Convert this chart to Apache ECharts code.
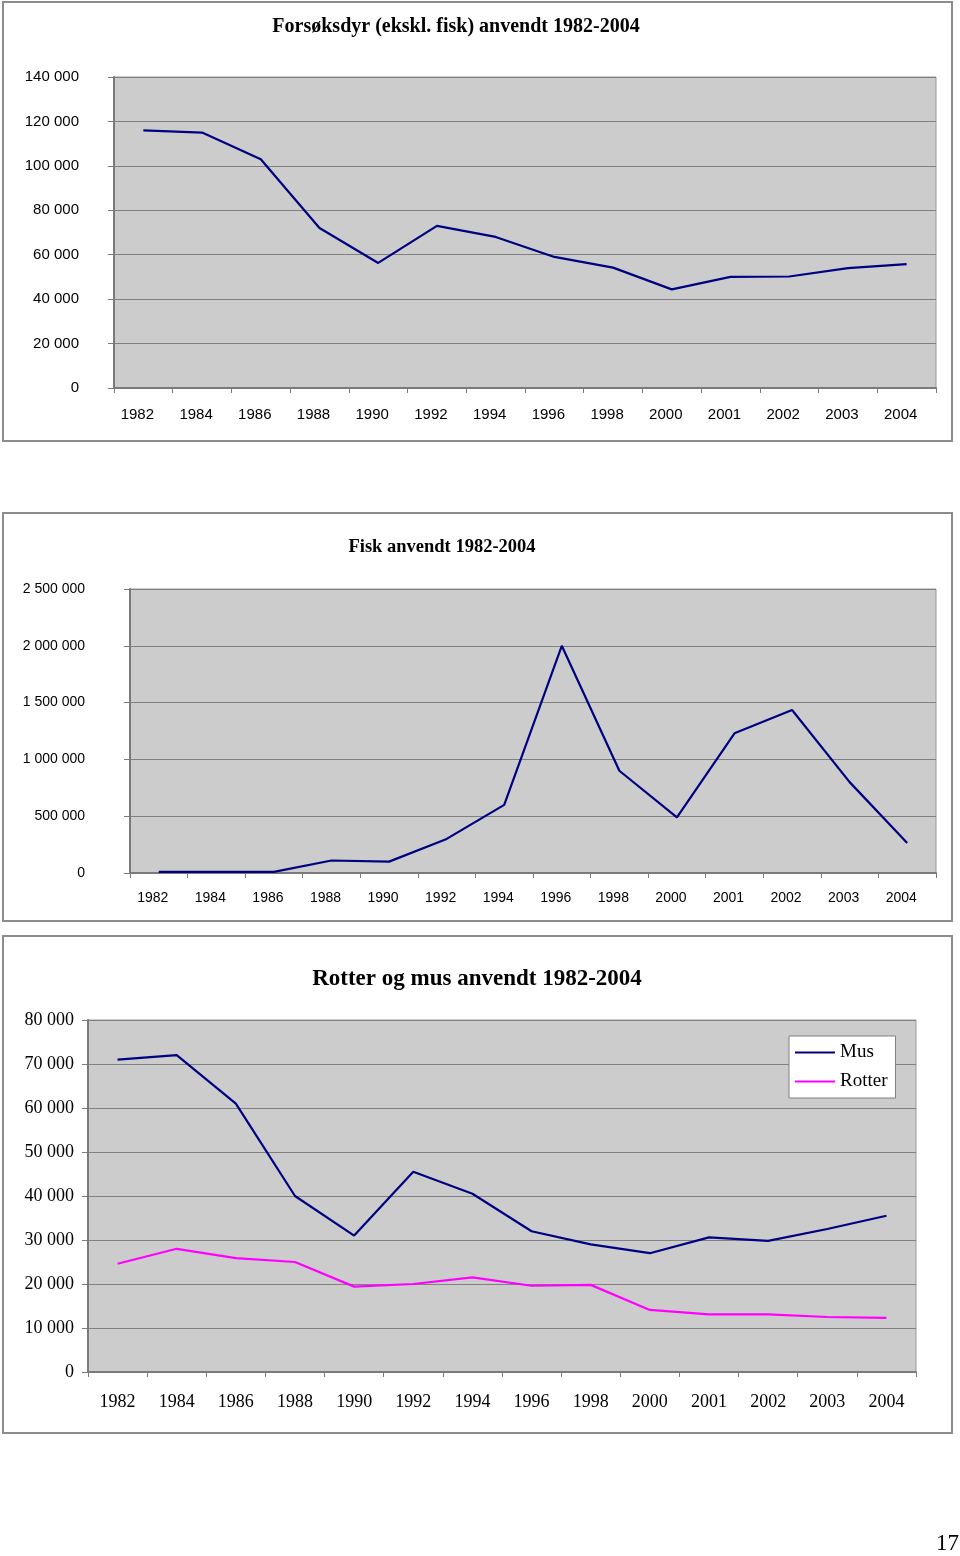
<!DOCTYPE html>
<html><head><meta charset="utf-8">
<script src="https://cdn.jsdelivr.net/npm/echarts@6/dist/echarts.min.js"></script>
<style>html,body{margin:0;padding:0;background:#fff}#c{width:960px;height:1556px}</style>
</head><body><div id="c"></div>
<script>
const years = ['1982','1984','1986','1988','1990','1992','1994','1996','1998','2000','2001','2002','2003','2004'];
const forsoksdyr = [116000,115000,103000,72000,56300,73000,68000,59000,54200,44400,50000,50200,54000,55800];
const fisk = [10000,10000,10000,110000,100000,300000,600000,2000000,900000,490000,1230000,1435000,800000,265000];
const mus = [71000,72000,61000,40000,31000,45500,40500,32000,29000,27000,30600,29800,32500,35500];
const rotter = [24600,28000,25900,25000,19400,20000,21500,19600,19800,14100,13100,13100,12500,12300];
const title1 = 'Forsøksdyr (ekskl. fisk) anvendt 1982-2004';
const title2 = 'Fisk anvendt 1982-2004';
const title3 = 'Rotter og mus anvendt 1982-2004';

const sans = '"Liberation Sans", Arial, sans-serif';
const serif = '"Liberation Serif", "Times New Roman", serif';
const fmt = v => String(v).replace(/\B(?=(\d{3})+(?!\d))/g, ' ');
const axisGrey = '#7a7a7a';

function xAxis(gi, font, size, margin, pad) {
  return {
    type: 'category', gridIndex: gi, data: years, boundaryGap: true,
    axisLine: {lineStyle: {color: axisGrey, width: 2}},
    axisTick: {show: true, length: 5, lineStyle: {color: axisGrey}},
    axisLabel: {interval: 0, fontFamily: font, fontSize: size, color: '#000', margin: margin, padding: pad}
  };
}
function yAxis(gi, max, interval, font, size, margin) {
  return {
    type: 'value', gridIndex: gi, min: 0, max: max, interval: interval,
    axisLine: {show: true, lineStyle: {color: axisGrey, width: 2}},
    axisTick: {show: true, inside: false, length: 6, lineStyle: {color: axisGrey}},
    splitLine: {show: true, lineStyle: {color: '#808080', width: 1}},
    axisLabel: {fontFamily: font, fontSize: size, color: '#000', margin: margin, formatter: fmt}
  };
}
const gridStyle = {show: true, backgroundColor: '#cccccc', borderColor: '#9a9a9a', borderWidth: 1};

const chart = echarts.init(document.getElementById('c'), null, {renderer: 'canvas'});
chart.setOption({
  animation: false,
  title: [
    {text: title1, left: 451, top: 12, textAlign: 'center', textStyle: {fontFamily: serif, fontWeight: 'bold', fontSize: 20, color: '#000'}},
    {text: title2, left: 437, top: 533, textAlign: 'center', textStyle: {fontFamily: serif, fontWeight: 'bold', fontSize: 18.5, color: '#000'}},
    {text: title3, left: 472, top: 963, textAlign: 'center', textStyle: {fontFamily: serif, fontWeight: 'bold', fontSize: 23, color: '#000'}}
  ],
  grid: [
    Object.assign({left: 114, top: 77, width: 822, height: 311}, gridStyle),
    Object.assign({left: 130, top: 589, width: 806, height: 284}, gridStyle),
    Object.assign({left: 88, top: 1020, width: 828, height: 352}, gridStyle)
  ],
  xAxis: [
    xAxis(0, sans, 15, 19, [0, 12, 0, 0]),
    xAxis(1, sans, 14, 18, [0, 12, 0, 0]),
    xAxis(2, serif, 18, 21, 0)
  ],
  yAxis: [
    yAxis(0, 140000, 20000, sans, 15, 35),
    yAxis(1, 2500000, 500000, sans, 14, 45),
    yAxis(2, 80000, 10000, serif, 18, 14)
  ],
  legend: {
    data: ['Mus', 'Rotter'], orient: 'vertical', left: 789, top: 1036,
    backgroundColor: '#fff', borderColor: '#808080', borderWidth: 1,
    padding: [7, 8, 7, 6], itemGap: 10, itemWidth: 40, itemHeight: 2, icon: 'rect',
    textStyle: {fontFamily: serif, fontSize: 19, color: '#000'}
  },
  series: [
    {name: 'Forsøksdyr', type: 'line', xAxisIndex: 0, yAxisIndex: 0, data: forsoksdyr, showSymbol: false, lineStyle: {color: '#000080', width: 2.2}, itemStyle: {color: '#000080'}},
    {name: 'Fisk', type: 'line', xAxisIndex: 1, yAxisIndex: 1, data: fisk, showSymbol: false, lineStyle: {color: '#000080', width: 2.2}, itemStyle: {color: '#000080'}},
    {name: 'Mus', type: 'line', xAxisIndex: 2, yAxisIndex: 2, data: mus, showSymbol: false, lineStyle: {color: '#000080', width: 2.2}, itemStyle: {color: '#000080'}},
    {name: 'Rotter', type: 'line', xAxisIndex: 2, yAxisIndex: 2, data: rotter, showSymbol: false, lineStyle: {color: '#ff00ff', width: 2.2}, itemStyle: {color: '#ff00ff'}}
  ],
  graphic: [
    {type: 'rect', shape: {x: 3, y: 2, width: 949, height: 439}, style: {fill: 'none', stroke: '#8c8c8c', lineWidth: 2}, z: -1},
    {type: 'rect', shape: {x: 3, y: 513, width: 949, height: 408}, style: {fill: 'none', stroke: '#8c8c8c', lineWidth: 2}, z: -1},
    {type: 'rect', shape: {x: 3, y: 936, width: 949, height: 497}, style: {fill: 'none', stroke: '#8c8c8c', lineWidth: 2}, z: -1},
    {type: 'text', left: 936, top: 1532, style: {text: '17', fontFamily: serif, fontSize: 23, fill: '#000'}}
  ]
});
</script></body></html>
